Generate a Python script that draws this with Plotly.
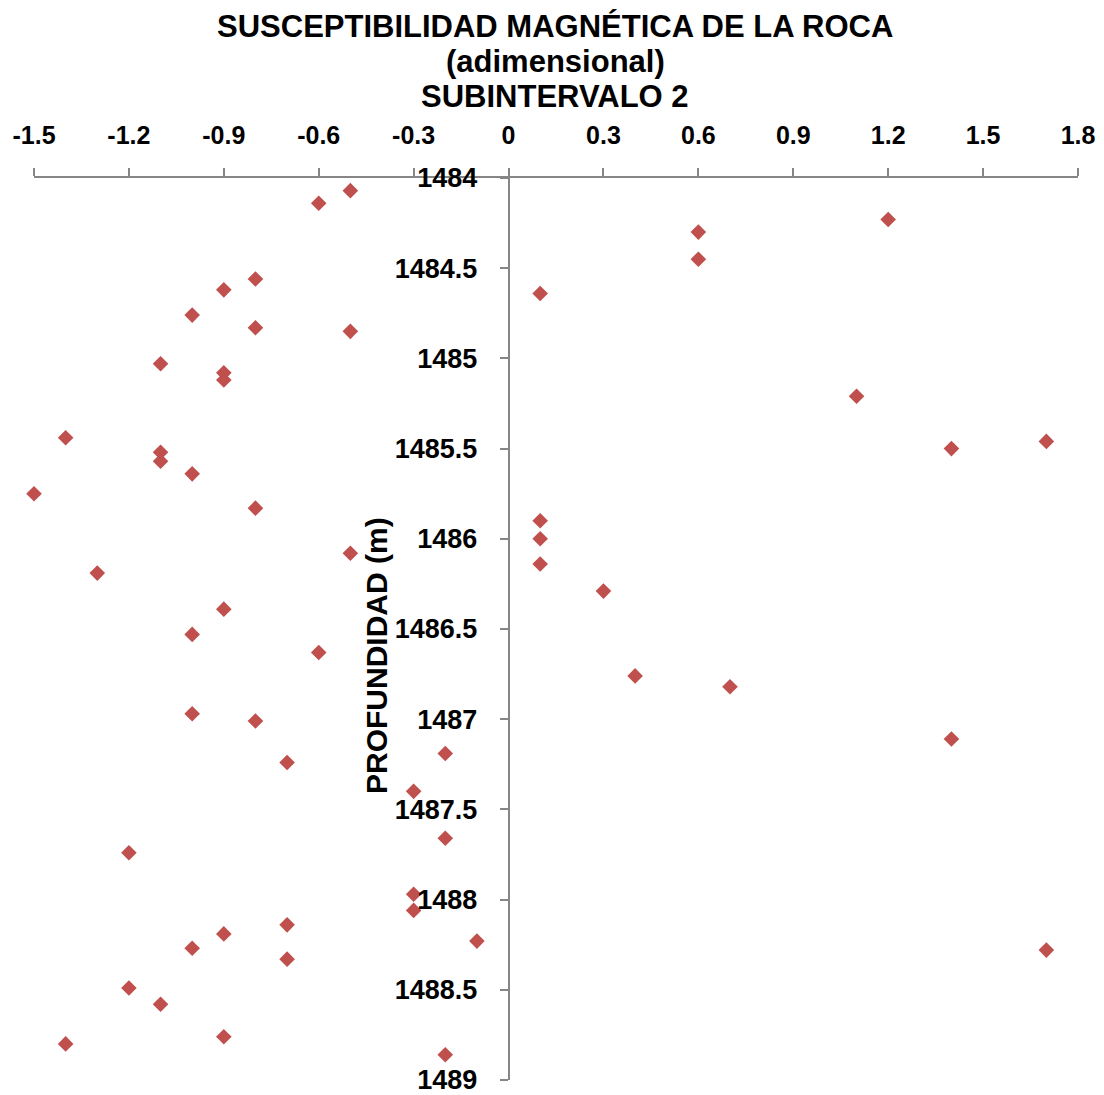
import plotly.graph_objects as go

susceptibilidad = [
    -0.5, -0.6, 1.2, 0.6, 0.6, -0.8, -0.9, 0.1, -1.0, -0.8,
    -0.5, -1.1, -0.9, -0.9, 1.1, -1.4, 1.7, -1.1, 1.4, -1.1,
    -1.0, -1.5, -0.8, 0.1, 0.1, -0.5, 0.1, -1.3, 0.3, -0.9,
    -1.0, -0.6, 0.4, 0.7, -1.0, -0.8, 1.4, -0.2, -0.7, -0.3,
    -0.2, -1.2, -0.3, -0.3, -0.7, -0.9, -0.1, -1.0, 1.7, -0.7,
    -1.2, -1.1, -0.9, -1.4, -0.2,
]
profundidad = [
    1484.07, 1484.14, 1484.23, 1484.30, 1484.45, 1484.56, 1484.62, 1484.64, 1484.76, 1484.83,
    1484.85, 1485.03, 1485.08, 1485.12, 1485.21, 1485.44, 1485.46, 1485.52, 1485.50, 1485.57,
    1485.64, 1485.75, 1485.83, 1485.90, 1486.00, 1486.08, 1486.14, 1486.19, 1486.29, 1486.39,
    1486.53, 1486.63, 1486.76, 1486.82, 1486.97, 1487.01, 1487.11, 1487.19, 1487.24, 1487.40,
    1487.66, 1487.74, 1487.97, 1488.06, 1488.14, 1488.19, 1488.23, 1488.27, 1488.28, 1488.33,
    1488.49, 1488.58, 1488.76, 1488.80, 1488.86,
]

x_tickvals = [-1.5, -1.2, -0.9, -0.6, -0.3, 0, 0.3, 0.6, 0.9, 1.2, 1.5, 1.8]
x_ticktext = ["-1.5", "-1.2", "-0.9", "-0.6", "-0.3", "0", "0.3", "0.6", "0.9", "1.2", "1.5", "1.8"]
y_tickvals = [1484, 1484.5, 1485, 1485.5, 1486, 1486.5, 1487, 1487.5, 1488, 1488.5, 1489]
y_ticktext = ["1484", "1484.5", "1485", "1485.5", "1486", "1486.5", "1487", "1487.5", "1488", "1488.5", "1489"]

title_lines = ["SUSCEPTIBILIDAD MAGNÉTICA DE LA ROCA", "(adimensional)", "SUBINTERVALO 2"]
y_title = "PROFUNDIDAD (m)"

# page offset (body margin) compensation
OFF = 8
W, H = 1104 - OFF, 1095 - OFF
L, R, T, B = 34 - OFF, 26, 178 - OFF, 15
xmin, xmax = -1.5, 1.8
font_fam = "Liberation Sans, Arial, sans-serif"

PW = W - L - R
PH = H - T - B


def px_to_paper(xpx, ypx):
    # target-window pixel coords -> plotly paper coords
    return (xpx - OFF - L) / PW, (H - B - (ypx - OFF)) / PH


fig = go.Figure()
fig.add_trace(go.Scatter(
    x=susceptibilidad, y=profundidad, mode="markers",
    marker=dict(symbol="diamond", size=12, color="#C0504D", line=dict(width=0)),
    showlegend=False, cliponaxis=False,
))

axis_col = "#868686"
fig.update_layout(
    width=W, height=H,
    margin=dict(l=L, r=R, t=T, b=B, autoexpand=False),
    paper_bgcolor="white", plot_bgcolor="white",
    font=dict(family=font_fam, color="black"),
    xaxis=dict(
        range=[xmin, xmax], side="top", showgrid=False, zeroline=False,
        showline=True, linecolor=axis_col, linewidth=1.5,
        ticks="outside", ticklen=8, tickwidth=1.5, tickcolor=axis_col,
        tickvals=x_tickvals, ticktext=x_ticktext,
        tickfont=dict(size=25, family=font_fam, color="black", weight="bold"),
        ticklabelstandoff=14, ticklabeloverflow="allow",
    ),
    yaxis=dict(
        range=[1489, 1484], showgrid=False, zeroline=False,
        anchor="free", position=(0 - xmin) / (xmax - xmin),
        showline=True, linecolor=axis_col, linewidth=1.5,
        ticks="outside", ticklen=8, tickwidth=1.5, tickcolor=axis_col,
        tickvals=y_tickvals, ticktext=y_ticktext,
        tickfont=dict(size=27, family=font_fam, color="black", weight="bold"),
        ticklabelstandoff=17, ticklabeloverflow="allow",
    ),
)

title_y = [27, 62, 97]
for txt, yy in zip(title_lines, title_y):
    ax, ay = px_to_paper(555, yy)
    fig.add_annotation(
        text=txt, x=ax, y=ay, xref="paper", yref="paper",
        xanchor="center", yanchor="middle", showarrow=False,
        font=dict(size=31, family=font_fam, color="black", weight="bold"),
    )

tx, ty = px_to_paper(376, 656)
fig.add_annotation(
    text=y_title, x=tx, y=ty,
    xref="paper", yref="paper", xanchor="center", yanchor="middle",
    textangle=-90, showarrow=False,
    font=dict(size=30, family=font_fam, color="black", weight="bold"),
)

fig.write_html("out.html")
